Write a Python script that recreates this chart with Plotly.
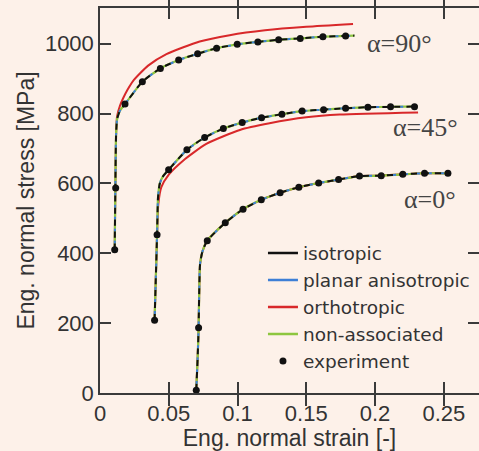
import plotly.graph_objects as go

# ---------------- data ----------------
# model curves (same for isotropic / planar anisotropic / non-associated)
m90_x = [0.0107, 0.0112, 0.0117, 0.0125, 0.0145, 0.0182, 0.0308, 0.0439, 0.0572, 0.0710, 0.0848, 0.0998, 0.1148, 0.1299, 0.1456, 0.1621, 0.1786, 0.1850]
m90_y = [410, 600, 740, 785, 808, 827, 891, 929, 953, 971, 987, 998, 1005, 1011, 1015, 1020, 1022, 1023]
m45_x = [0.0397, 0.0406, 0.0415, 0.0422, 0.0435, 0.0458, 0.0499, 0.0632, 0.0761, 0.0897, 0.1034, 0.1175, 0.1323, 0.1470, 0.1626, 0.1786, 0.1948, 0.2113, 0.2287, 0.2310]
m45_y = [208, 330, 453, 560, 600, 620, 639, 696, 731, 757, 774, 788, 798, 807, 811, 815, 818, 819, 820, 820]
m0_x = [0.0700, 0.0710, 0.0717, 0.0722, 0.0728, 0.0745, 0.0780, 0.0911, 0.1040, 0.1173, 0.1310, 0.1446, 0.1590, 0.1735, 0.1887, 0.2045, 0.2202, 0.2360, 0.2530, 0.2550]
m0_y = [8, 100, 187, 300, 370, 405, 436, 487, 526, 553, 573, 589, 601, 611, 621, 622, 626, 629, 629, 630]

# orthotropic model
o90_x = [0.0107, 0.0112, 0.0117, 0.0124, 0.0145, 0.0170, 0.0200, 0.0240, 0.0350, 0.0483, 0.0725, 0.0943, 0.1200, 0.1500, 0.1840]
o90_y = [410, 600, 740, 792, 822, 845, 868, 893, 937, 970, 1006, 1024, 1038, 1048, 1056]
o45_x = [0.0397, 0.0406, 0.0415, 0.0424, 0.0446, 0.0500, 0.0604, 0.0773, 0.1017, 0.1233, 0.1500, 0.1743, 0.2313]
o45_y = [208, 330, 453, 540, 589, 625, 665, 713, 753, 772, 789, 797, 803]

# experiment
e90_x = [0.0107, 0.0114, 0.0182, 0.0308, 0.0439, 0.0572, 0.0710, 0.0848, 0.0998, 0.1148, 0.1299, 0.1456, 0.1621, 0.1786]
e90_y = [410, 587, 827, 891, 929, 953, 971, 987, 998, 1005, 1011, 1015, 1020, 1022]
e45_x = [0.0397, 0.0415, 0.0499, 0.0632, 0.0761, 0.0897, 0.1034, 0.1175, 0.1323, 0.1470, 0.1626, 0.1786, 0.1948, 0.2113, 0.2287]
e45_y = [208, 453, 639, 696, 731, 757, 774, 788, 798, 807, 811, 815, 818, 819, 819]
e0_x = [0.0700, 0.0717, 0.0780, 0.0911, 0.1040, 0.1173, 0.1310, 0.1446, 0.1590, 0.1735, 0.1887, 0.2045, 0.2202, 0.2360, 0.2530]
e0_y = [8, 187, 436, 487, 526, 553, 573, 589, 601, 611, 621, 622, 626, 629, 629]

legend_names = ["isotropic", "planar anisotropic", "orthotropic", "non-associated", "experiment"]
angle_labels = ["α=90°", "α=45°", "α=0°"]
angle_pos_x = [0.2175, 0.2366, 0.2402]
angle_pos_y = [999, 760, 555]

x_ticks = [0, 0.05, 0.1, 0.15, 0.2, 0.25]
x_tick_text = ["0", "0.05", "0.1", "0.15", "0.2", "0.25"]
y_ticks = [0, 200, 400, 600, 800, 1000]

# ---------------- styling ----------------
BG = "#fdf1e9"
AX = "#3a3a3a"
C_ISO = "#111111"
C_PLA = "#3d7fd6"
C_ORT = "#d8282a"
C_NON = "#8dc63f"


def join(*curves):
    xs, ys = [], []
    for cx, cy in curves:
        if xs:
            xs.append(None)
            ys.append(None)
        xs += list(cx)
        ys += list(cy)
    return xs, ys


mx, my = join((m90_x, m90_y), (m45_x, m45_y), (m0_x, m0_y))
ox, oy = join((o90_x, o90_y), (o45_x, o45_y), (m0_x, m0_y))
ex, ey = join((e90_x, e90_y), (e45_x, e45_y), (e0_x, e0_y))

fig = go.Figure()
shape = dict(shape="spline", smoothing=0.6)
fig.add_trace(go.Scatter(x=ox, y=oy, mode="lines", line=dict(color=C_ORT, width=2, **shape), showlegend=False, hoverinfo="skip"))
fig.add_trace(go.Scatter(x=mx, y=my, mode="lines", line=dict(color=C_NON, width=2.2, **shape), showlegend=False, hoverinfo="skip"))
fig.add_trace(go.Scatter(x=mx, y=my, mode="lines", line=dict(color=C_PLA, width=2, dash="0px,6px,3px,3px", **shape), showlegend=False, hoverinfo="skip"))
fig.add_trace(go.Scatter(x=mx, y=my, mode="lines", line=dict(color=C_ISO, width=2, dash="6px,6px", **shape), showlegend=False, hoverinfo="skip"))
fig.add_trace(go.Scatter(x=ex, y=ey, mode="markers", marker=dict(color="#111111", size=7), showlegend=False, hoverinfo="skip"))

# legend entries
for name, col in zip(legend_names[:4], [C_ISO, C_PLA, C_ORT, C_NON]):
    fig.add_trace(go.Scatter(x=[None], y=[None], mode="lines", name=name, line=dict(color=col, width=2.5)))
fig.add_trace(go.Scatter(x=[None], y=[None], mode="markers", name=legend_names[4], marker=dict(color="#111111", size=7)))

# hidden axis for right-side ticks (no line)
fig.add_trace(go.Scatter(x=[None], y=[None], yaxis="y2", showlegend=False))

for t, px, py in zip(angle_labels, angle_pos_x, angle_pos_y):
    fig.add_annotation(x=px, y=py, text=t, showarrow=False, xanchor="center", yanchor="middle",
                       font=dict(family="Liberation Serif", size=26, color="#444444"))

font_sans = "Liberation Sans"
fig.update_layout(
    width=479, height=451,
    margin=dict(l=100, r=0, t=8, b=58),
    paper_bgcolor=BG, plot_bgcolor=BG,
    font=dict(family=font_sans, color="#333333"),
    showlegend=True,
    legend=dict(x=0.43, y=0.412, xanchor="left", yanchor="top", bgcolor="rgba(0,0,0,0)",
                font=dict(family="DejaVu Sans", size=18.5, color="#333333"), tracegroupgap=0),
    xaxis=dict(range=[0, 0.2756], tickvals=x_ticks, ticktext=x_tick_text, ticks="inside", ticklen=11,
               tickwidth=1.5, tickcolor=AX, showline=True, linecolor=AX, linewidth=1.5, mirror="allticks",
               showgrid=False, zeroline=False, tickfont=dict(size=22),
               title=dict(text="Eng. normal strain [-]", font=dict(size=23), standoff=0)),
    yaxis=dict(range=[0, 1102], tickvals=y_ticks, ticks="inside", ticklen=11, tickwidth=1.5, tickcolor=AX,
               showline=True, linecolor=AX, linewidth=1.5, showgrid=False, zeroline=False,
               tickfont=dict(size=22),
               title=dict(text="Eng. normal stress [MPa]", font=dict(size=23), standoff=4)),
    yaxis2=dict(range=[0, 1102], tickvals=y_ticks, ticks="inside", ticklen=11, tickwidth=1.5, tickcolor=AX,
                overlaying="y", side="right", showline=False, showticklabels=False, showgrid=False,
                zeroline=False),
)

fig.write_html("out.html")
